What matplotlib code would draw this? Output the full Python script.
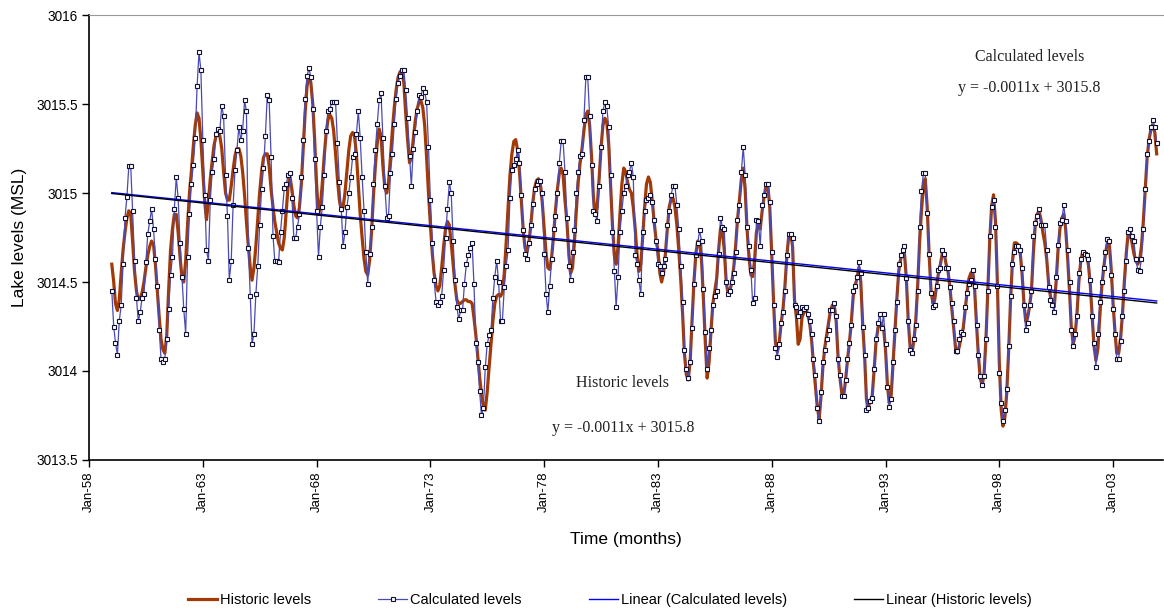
import numpy as np
import pandas as pd
import matplotlib
matplotlib.use("Agg")
import matplotlib.pyplot as plt

# monthly lake levels, Jan 1959 .. Dec 2004 (one row per year)
calculated = [
    3014.45, 3014.25, 3014.16, 3014.09, 3014.28, 3014.37, 3014.60, 3014.86, 3014.98, 3015.15, 3015.15, 3014.90,  # 1959
    3014.62, 3014.41, 3014.28, 3014.33, 3014.41, 3014.43, 3014.61, 3014.77, 3014.84, 3014.91, 3014.80, 3014.63,  # 1960
    3014.48, 3014.23, 3014.07, 3014.05, 3014.07, 3014.18, 3014.35, 3014.54, 3014.64, 3014.91, 3015.09, 3014.97,  # 1961
    3014.72, 3014.53, 3014.35, 3014.21, 3014.64, 3014.88, 3015.05, 3015.16, 3015.31, 3015.60, 3015.79, 3015.69,  # 1962
    3015.30, 3014.99, 3014.68, 3014.62, 3014.96, 3015.12, 3015.19, 3015.33, 3015.36, 3015.35, 3015.49, 3015.43,  # 1963
    3015.10, 3014.87, 3014.51, 3014.62, 3014.93, 3015.13, 3015.24, 3015.37, 3015.30, 3015.35, 3015.52, 3015.46,  # 1964
    3014.69, 3014.42, 3014.15, 3014.21, 3014.43, 3014.59, 3014.82, 3015.02, 3015.14, 3015.32, 3015.55, 3015.52,  # 1965
    3015.20, 3014.76, 3014.62, 3014.62, 3014.61, 3014.78, 3014.90, 3015.03, 3015.05, 3015.10, 3015.11, 3014.97,  # 1966
    3014.75, 3014.75, 3014.81, 3014.88, 3015.09, 3015.30, 3015.53, 3015.66, 3015.70, 3015.65, 3015.47, 3015.19,  # 1967
    3014.90, 3014.64, 3014.81, 3014.92, 3015.10, 3015.35, 3015.46, 3015.47, 3015.51, 3015.51, 3015.51, 3015.28,  # 1968
    3015.06, 3014.91, 3014.70, 3014.78, 3014.92, 3015.00, 3015.09, 3015.20, 3015.22, 3015.33, 3015.46, 3015.31,  # 1969
    3015.09, 3014.90, 3014.67, 3014.49, 3014.66, 3014.81, 3015.05, 3015.24, 3015.39, 3015.52, 3015.56, 3015.31,  # 1970
    3015.04, 3014.86, 3014.87, 3015.11, 3015.22, 3015.39, 3015.53, 3015.62, 3015.66, 3015.69, 3015.69, 3015.58,  # 1971
    3015.42, 3015.21, 3015.04, 3015.25, 3015.34, 3015.46, 3015.55, 3015.54, 3015.59, 3015.57, 3015.51, 3015.26,  # 1972
    3014.96, 3014.72, 3014.51, 3014.39, 3014.37, 3014.39, 3014.42, 3014.57, 3014.75, 3014.91, 3015.06, 3015.00,  # 1973
    3014.73, 3014.51, 3014.36, 3014.29, 3014.34, 3014.34, 3014.49, 3014.60, 3014.65, 3014.69, 3014.72, 3014.49,  # 1974
    3014.16, 3014.05, 3013.89, 3013.75, 3013.79, 3014.02, 3014.15, 3014.20, 3014.23, 3014.41, 3014.53, 3014.62,  # 1975
    3014.50, 3014.28, 3014.28, 3014.47, 3014.59, 3014.68, 3014.97, 3015.13, 3015.16, 3015.19, 3015.24, 3015.17,  # 1976
    3014.99, 3014.79, 3014.66, 3014.63, 3014.72, 3014.82, 3014.94, 3015.02, 3015.05, 3015.07, 3015.07, 3015.00,  # 1977
    3014.66, 3014.43, 3014.33, 3014.48, 3014.63, 3014.80, 3014.87, 3015.00, 3015.17, 3015.29, 3015.29, 3015.12,  # 1978
    3014.86, 3014.59, 3014.51, 3014.67, 3014.79, 3015.00, 3015.12, 3015.21, 3015.22, 3015.41, 3015.65, 3015.65,  # 1979
    3015.43, 3015.16, 3014.90, 3014.88, 3014.84, 3015.04, 3015.26, 3015.46, 3015.51, 3015.49, 3015.37, 3015.10,  # 1980
    3014.78, 3014.56, 3014.36, 3014.53, 3014.78, 3014.90, 3015.00, 3015.04, 3015.10, 3015.12, 3015.17, 3015.09,  # 1981
    3014.65, 3014.60, 3014.51, 3014.43, 3014.78, 3014.90, 3014.96, 3014.97, 3014.99, 3014.95, 3014.85, 3014.73,  # 1982
    3014.60, 3014.59, 3014.55, 3014.59, 3014.63, 3014.82, 3014.90, 3014.99, 3015.04, 3015.04, 3014.93, 3014.80,  # 1983
    3014.59, 3014.39, 3014.12, 3014.01, 3013.96, 3014.05, 3014.24, 3014.49, 3014.65, 3014.72, 3014.79, 3014.73,  # 1984
    3014.46, 3014.22, 3014.01, 3014.13, 3014.23, 3014.37, 3014.42, 3014.45, 3014.66, 3014.86, 3014.81, 3014.80,  # 1985
    3014.50, 3014.43, 3014.45, 3014.50, 3014.55, 3014.67, 3014.85, 3014.93, 3015.12, 3015.26, 3015.10, 3014.81,  # 1986
    3014.70, 3014.57, 3014.38, 3014.41, 3014.85, 3014.84, 3014.70, 3014.93, 3014.99, 3015.05, 3015.05, 3014.95,  # 1987
    3014.67, 3014.37, 3014.13, 3014.08, 3014.15, 3014.27, 3014.33, 3014.45, 3014.65, 3014.77, 3014.77, 3014.75,  # 1988
    3014.37, 3014.36, 3014.31, 3014.33, 3014.36, 3014.35, 3014.36, 3014.32, 3014.28, 3014.21, 3014.07, 3013.98,  # 1989
    3013.79, 3013.72, 3013.88, 3014.05, 3014.12, 3014.18, 3014.23, 3014.34, 3014.34, 3014.38, 3014.31, 3014.07,  # 1990
    3013.98, 3013.86, 3013.86, 3013.95, 3014.07, 3014.16, 3014.26, 3014.45, 3014.48, 3014.53, 3014.61, 3014.55,  # 1991
    3014.25, 3014.09, 3013.78, 3013.79, 3013.83, 3013.85, 3014.01, 3014.18, 3014.27, 3014.32, 3014.24, 3014.32,  # 1992
    3014.15, 3013.91, 3013.80, 3013.84, 3014.05, 3014.23, 3014.39, 3014.60, 3014.65, 3014.68, 3014.70, 3014.52,  # 1993
    3014.28, 3014.12, 3014.10, 3014.18, 3014.26, 3014.45, 3014.81, 3015.01, 3015.11, 3015.11, 3014.89, 3014.66,  # 1994
    3014.44, 3014.36, 3014.37, 3014.48, 3014.57, 3014.58, 3014.68, 3014.66, 3014.58, 3014.58, 3014.47, 3014.38,  # 1995
    3014.28, 3014.11, 3014.11, 3014.18, 3014.22, 3014.21, 3014.36, 3014.44, 3014.49, 3014.51, 3014.57, 3014.48,  # 1996
    3014.26, 3014.09, 3013.97, 3013.92, 3013.97, 3014.18, 3014.45, 3014.76, 3014.92, 3014.96, 3014.81, 3014.48,  # 1997
    3013.99, 3013.82, 3013.72, 3013.78, 3013.90, 3014.14, 3014.42, 3014.60, 3014.67, 3014.70, 3014.70, 3014.68,  # 1998
    3014.58, 3014.37, 3014.23, 3014.27, 3014.37, 3014.45, 3014.76, 3014.83, 3014.87, 3014.91, 3014.82, 3014.82,  # 1999
    3014.82, 3014.68, 3014.47, 3014.40, 3014.37, 3014.33, 3014.53, 3014.71, 3014.83, 3014.85, 3014.93, 3014.84,  # 2000
    3014.68, 3014.50, 3014.23, 3014.14, 3014.21, 3014.31, 3014.55, 3014.63, 3014.67, 3014.66, 3014.65, 3014.63,  # 2001
    3014.51, 3014.31, 3014.16, 3014.02, 3014.21, 3014.39, 3014.50, 3014.58, 3014.67, 3014.74, 3014.73, 3014.54,  # 2002
    3014.35, 3014.21, 3014.07, 3014.07, 3014.17, 3014.31, 3014.45, 3014.62, 3014.78, 3014.80, 3014.76, 3014.73,  # 2003
    3014.63, 3014.57, 3014.56, 3014.63, 3014.80, 3015.02, 3015.22, 3015.29, 3015.37, 3015.41, 3015.37, 3015.28,  # 2004
]

historic = [
    3014.60, 3014.50, 3014.38, 3014.34, 3014.40, 3014.55, 3014.68, 3014.78, 3014.86, 3014.90, 3014.88, 3014.73,  # 1959
    3014.56, 3014.45, 3014.40, 3014.41, 3014.44, 3014.50, 3014.58, 3014.65, 3014.70, 3014.73, 3014.71, 3014.60,  # 1960
    3014.45, 3014.30, 3014.18, 3014.12, 3014.10, 3014.20, 3014.45, 3014.68, 3014.80, 3014.88, 3014.88, 3014.78,  # 1961
    3014.64, 3014.52, 3014.50, 3014.62, 3014.82, 3015.00, 3015.12, 3015.26, 3015.38, 3015.45, 3015.42, 3015.30,  # 1962
    3015.12, 3014.95, 3014.85, 3014.95, 3015.08, 3015.18, 3015.27, 3015.32, 3015.35, 3015.32, 3015.25, 3015.12,  # 1963
    3015.00, 3014.96, 3014.96, 3015.04, 3015.13, 3015.21, 3015.25, 3015.25, 3015.21, 3015.12, 3014.99, 3014.84,  # 1964
    3014.70, 3014.58, 3014.51, 3014.58, 3014.70, 3014.85, 3015.00, 3015.12, 3015.20, 3015.22, 3015.22, 3015.15,  # 1965
    3015.02, 3014.92, 3014.84, 3014.78, 3014.72, 3014.69, 3014.68, 3014.75, 3014.90, 3015.04, 3015.09, 3015.02,  # 1966
    3014.93, 3014.87, 3014.86, 3014.92, 3015.05, 3015.25, 3015.45, 3015.60, 3015.66, 3015.62, 3015.50, 3015.30,  # 1967
    3015.05, 3014.88, 3014.92, 3015.05, 3015.20, 3015.33, 3015.41, 3015.44, 3015.42, 3015.35, 3015.22, 3015.08,  # 1968
    3014.96, 3014.90, 3014.92, 3015.00, 3015.12, 3015.24, 3015.32, 3015.34, 3015.32, 3015.22, 3015.05, 3014.88,  # 1969
    3014.75, 3014.63, 3014.56, 3014.54, 3014.62, 3014.78, 3014.98, 3015.15, 3015.28, 3015.36, 3015.32, 3015.15,  # 1970
    3015.03, 3015.00, 3015.06, 3015.20, 3015.35, 3015.48, 3015.58, 3015.65, 3015.68, 3015.69, 3015.62, 3015.45,  # 1971
    3015.30, 3015.17, 3015.20, 3015.30, 3015.40, 3015.47, 3015.51, 3015.52, 3015.48, 3015.38, 3015.20, 3015.00,  # 1972
    3014.82, 3014.66, 3014.55, 3014.48, 3014.45, 3014.48, 3014.58, 3014.70, 3014.80, 3014.84, 3014.82, 3014.72,  # 1973
    3014.60, 3014.48, 3014.40, 3014.38, 3014.38, 3014.39, 3014.40, 3014.40, 3014.39, 3014.39, 3014.38, 3014.30,  # 1974
    3014.20, 3014.08, 3013.97, 3013.87, 3013.80, 3013.78, 3013.88, 3014.02, 3014.15, 3014.28, 3014.38, 3014.42,  # 1975
    3014.43, 3014.42, 3014.44, 3014.55, 3014.72, 3014.92, 3015.10, 3015.22, 3015.29, 3015.30, 3015.24, 3015.12,  # 1976
    3014.95, 3014.78, 3014.69, 3014.67, 3014.72, 3014.82, 3014.94, 3015.03, 3015.07, 3015.08, 3015.05, 3014.95,  # 1977
    3014.80, 3014.66, 3014.58, 3014.57, 3014.64, 3014.76, 3014.90, 3015.02, 3015.11, 3015.14, 3015.10, 3014.96,  # 1978
    3014.84, 3014.66, 3014.55, 3014.58, 3014.72, 3014.90, 3015.06, 3015.17, 3015.25, 3015.35, 3015.44, 3015.46,  # 1979
    3015.38, 3015.20, 3014.98, 3014.88, 3014.92, 3015.08, 3015.25, 3015.38, 3015.42, 3015.40, 3015.28, 3015.05,  # 1980
    3014.82, 3014.65, 3014.60, 3014.70, 3014.88, 3015.05, 3015.14, 3015.12, 3015.06, 3015.02, 3015.00, 3014.92,  # 1981
    3014.80, 3014.65, 3014.56, 3014.60, 3014.75, 3014.92, 3015.05, 3015.09, 3015.06, 3014.96, 3014.84, 3014.74,  # 1982
    3014.68, 3014.55, 3014.50, 3014.55, 3014.66, 3014.80, 3014.92, 3014.97, 3014.97, 3014.92, 3014.82, 3014.68,  # 1983
    3014.52, 3014.32, 3014.10, 3013.98, 3013.95, 3014.05, 3014.28, 3014.50, 3014.66, 3014.73, 3014.72, 3014.62,  # 1984
    3014.40, 3014.15, 3013.96, 3014.05, 3014.22, 3014.38, 3014.45, 3014.52, 3014.68, 3014.80, 3014.78, 3014.68,  # 1985
    3014.50, 3014.43, 3014.45, 3014.50, 3014.58, 3014.70, 3014.85, 3014.96, 3015.08, 3015.14, 3015.02, 3014.80,  # 1986
    3014.64, 3014.54, 3014.53, 3014.62, 3014.78, 3014.82, 3014.80, 3014.90, 3014.98, 3015.04, 3015.04, 3014.92,  # 1987
    3014.66, 3014.38, 3014.16, 3014.11, 3014.16, 3014.27, 3014.35, 3014.48, 3014.65, 3014.76, 3014.77, 3014.70,  # 1988
    3014.40, 3014.30, 3014.15, 3014.18, 3014.30, 3014.33, 3014.35, 3014.32, 3014.27, 3014.18, 3014.04, 3013.92,  # 1989
    3013.80, 3013.73, 3013.85, 3014.02, 3014.13, 3014.20, 3014.27, 3014.34, 3014.37, 3014.37, 3014.28, 3014.08,  # 1990
    3013.96, 3013.87, 3013.86, 3013.95, 3014.06, 3014.16, 3014.27, 3014.42, 3014.48, 3014.52, 3014.58, 3014.50,  # 1991
    3014.26, 3014.08, 3013.84, 3013.80, 3013.83, 3013.86, 3014.00, 3014.16, 3014.24, 3014.27, 3014.26, 3014.24,  # 1992
    3014.12, 3013.92, 3013.82, 3013.86, 3014.04, 3014.22, 3014.40, 3014.56, 3014.63, 3014.66, 3014.66, 3014.52,  # 1993
    3014.28, 3014.13, 3014.10, 3014.17, 3014.28, 3014.48, 3014.72, 3014.90, 3015.04, 3015.08, 3014.92, 3014.66,  # 1994
    3014.45, 3014.38, 3014.40, 3014.48, 3014.55, 3014.60, 3014.66, 3014.66, 3014.60, 3014.56, 3014.47, 3014.35,  # 1995
    3014.24, 3014.12, 3014.10, 3014.14, 3014.20, 3014.24, 3014.34, 3014.44, 3014.52, 3014.55, 3014.56, 3014.46,  # 1996
    3014.26, 3014.08, 3013.96, 3013.92, 3013.98, 3014.18, 3014.45, 3014.74, 3014.93, 3014.99, 3014.84, 3014.50,  # 1997
    3014.05, 3013.78, 3013.69, 3013.74, 3013.88, 3014.12, 3014.40, 3014.62, 3014.72, 3014.72, 3014.71, 3014.67,  # 1998
    3014.55, 3014.38, 3014.28, 3014.30, 3014.36, 3014.45, 3014.66, 3014.82, 3014.88, 3014.90, 3014.85, 3014.78,  # 1999
    3014.72, 3014.63, 3014.50, 3014.42, 3014.38, 3014.36, 3014.50, 3014.68, 3014.80, 3014.86, 3014.88, 3014.80,  # 2000
    3014.64, 3014.45, 3014.25, 3014.15, 3014.20, 3014.32, 3014.50, 3014.62, 3014.67, 3014.67, 3014.65, 3014.60,  # 2001
    3014.48, 3014.30, 3014.14, 3014.06, 3014.12, 3014.30, 3014.46, 3014.57, 3014.66, 3014.72, 3014.72, 3014.58,  # 2002
    3014.38, 3014.22, 3014.10, 3014.10, 3014.18, 3014.32, 3014.50, 3014.66, 3014.78, 3014.77, 3014.72, 3014.66,  # 2003
    3014.62, 3014.60, 3014.62, 3014.70, 3014.84, 3015.02, 3015.20, 3015.30, 3015.36, 3015.38, 3015.34, 3015.22,  # 2004
]

tick_dates = ["1958-01-01", "1963-01-01", "1968-01-01", "1973-01-01", "1978-01-01",
              "1983-01-01", "1988-01-01", "1993-01-01", "1998-01-01", "2003-01-01"]
tick_labels = ["Jan-58", "Jan-63", "Jan-68", "Jan-73", "Jan-78",
               "Jan-83", "Jan-88", "Jan-93", "Jan-98", "Jan-03"]
y_ticks = [3013.5, 3014, 3014.5, 3015, 3015.5, 3016]
y_tick_labels = ["3013.5", "3014", "3014.5", "3015", "3015.5", "3016"]

months = pd.date_range("1959-01-01", periods=len(calculated), freq="MS")
idx = np.arange(1, len(calculated) + 1)

# Excel style linear trendlines
calc_fit = np.polyfit(idx, calculated, 1)
hist_fit = np.polyfit(idx, historic, 1)

plt.rcParams["font.family"] = ["Liberation Sans", "DejaVu Sans"]

fig = plt.figure(figsize=(11.64, 6.13), dpi=100)
ax = fig.add_axes([0.0765, 0.2496, 0.9225, 0.7259])

ax.plot(months, historic, color="#A33A06", lw=2.3, label="Historic levels", zorder=2)
ax.plot(months, calculated, color="#4A4AB4", lw=0.9, marker="s", markersize=3.2,
        markerfacecolor="white", markeredgecolor="#111133", markeredgewidth=0.8,
        label="Calculated levels", zorder=3)
ax.plot(months, np.polyval(calc_fit, idx), color="#0000FF", lw=1.0,
        label="Linear (Calculated levels)", zorder=4)
ax.plot(months, np.polyval(hist_fit, idx), color="black", lw=1.0,
        label="Linear (Historic levels)", zorder=5)

ax.set_xlim(pd.Timestamp("1958-01-01"), pd.Timestamp("2005-03-10"))
ax.set_ylim(3013.5, 3016)
ax.set_xticks(pd.to_datetime(tick_dates))
ax.set_xticklabels(tick_labels, rotation=90, fontsize=9.5)
ax.set_yticks(y_ticks)
ax.set_yticklabels(y_tick_labels, fontsize=9.8)
ax.tick_params(axis="both", direction="out", length=5, width=1, pad=3)

ax.spines["right"].set_visible(False)
ax.spines["top"].set_color("#999999")
ax.spines["left"].set_linewidth(1.2)
ax.spines["bottom"].set_linewidth(1.2)

ax.set_ylabel("Lake levels (MSL)", fontsize=12.5, labelpad=7)
ax.set_xlabel("Time (months)", fontsize=12.5, labelpad=15)

serif = ["Liberation Serif", "DejaVu Serif"]
ax.text(0.876, 0.906, "Calculated levels", transform=ax.transAxes, ha="center",
        va="center", fontsize=11.5, family=serif, color="#222222")
ax.text(0.876, 0.836, "y = -0.0011x + 3015.8", transform=ax.transAxes, ha="center",
        va="center", fontsize=11.5, family=serif, color="#222222")
ax.text(0.497, 0.173, "Historic levels", transform=ax.transAxes, ha="center",
        va="center", fontsize=11.5, family=serif, color="#222222")
ax.text(0.497, 0.072, "y = -0.0011x + 3015.8", transform=ax.transAxes, ha="center",
        va="center", fontsize=11.5, family=serif, color="#222222")

fig.legend(loc="center", bbox_to_anchor=(0.524, 0.021), ncol=4, frameon=False,
           fontsize=10.5, handlelength=2.0, handletextpad=0.2, columnspacing=4.6)

fig.savefig("out.png", dpi=100)
